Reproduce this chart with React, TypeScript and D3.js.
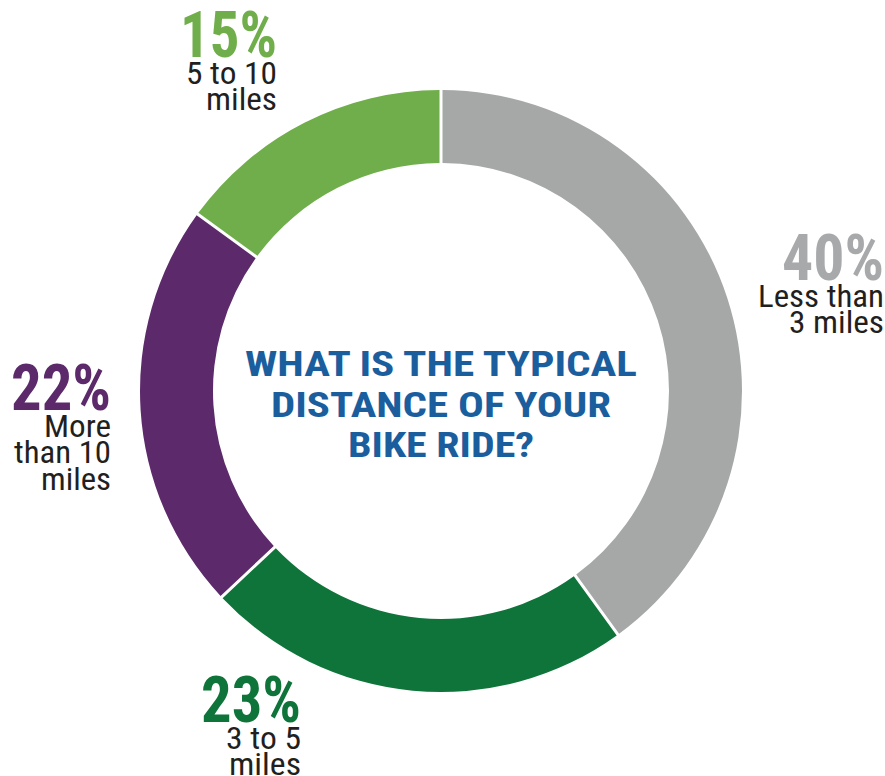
import React from "react";
import * as d3 from "d3";

const categories = ["Less than 3 miles", "3 to 5 miles", "More than 10 miles", "5 to 10 miles"];
const values = [40, 23, 22, 15];
const pctLabels = ["40%", "23%", "22%", "15%"];
const descLines = [["Less than", "3 miles"], ["3 to 5", "miles"], ["More", "than 10", "miles"], ["5 to 10", "miles"]];
const colors = ["#a6a7a7", "#0f743a", "#5c2a6b", "#6fae4a"];
const pctColors = ["#a8a9ab", "#0f743a", "#5c2a6b", "#6fae4a"];
const titleLines = ["WHAT IS THE TYPICAL", "DISTANCE OF YOUR", "BIKE RIDE?"];

// layout (styling only)
const W = 885, H = 776;
const CX = 441, CY = 391, R_OUT = 301, R_IN = 228;
const labelLayout = [
  { x: 884, y: 280, pctW: 102, lineW: [126, 95] },
  { x: 301, y: 722, pctW: 100, lineW: [75, 72] },
  { x: 111, y: 410, pctW: 100, lineW: [67, 97, 70] },
  { x: 277, y: 57, pctW: 97, lineW: [91, 71] },
];
const titleW = [392, 340, 186];

export default function App() {
  const pie = d3.pie<number>().sort(null).value((d) => d)(values);
  const arc = d3
    .arc<d3.PieArcDatum<number>>()
    .innerRadius(R_IN)
    .outerRadius(R_OUT)
    .padAngle(3 / R_OUT)
    .padRadius(R_OUT);
  const font = "'Roboto Condensed', Roboto, 'Noto Sans', sans-serif";
  return (
    <svg
      width={W}
      height={H}
      style={{ position: "absolute", left: 0, top: 0, background: "#fff" }}
      fontFamily={font}
    >
      <g transform={`translate(${CX},${CY})`}>
        {pie.map((p, i) => (
          <path key={categories[i]} d={arc(p) || ""} fill={colors[i]} />
        ))}
      </g>
      {labelLayout.map((l, i) => (
        <g key={"lab" + i}>
          <text
            x={l.x}
            y={l.y}
            textAnchor="end"
            fontSize={64}
            fontWeight={700}
            fill={pctColors[i]}
            textLength={l.pctW}
            lengthAdjust="spacingAndGlyphs"
          >
            {pctLabels[i]}
          </text>
          {descLines[i].map((s, j) => (
            <text
              key={j}
              x={l.x}
              y={l.y + 26.5 * (j + 1)}
              textAnchor="end"
              fontSize={32}
              fontWeight={400}
              fill="#231f20"
              textLength={l.lineW[j]}
              lengthAdjust="spacingAndGlyphs"
            >
              {s}
            </text>
          ))}
        </g>
      ))}
      {titleLines.map((s, i) => (
        <text
          key={"t" + i}
          x={CX}
          y={376 + 40.5 * i}
          textAnchor="middle"
          fontSize={35}
          fontWeight={700}
          fill="#1a5e9e"
          textLength={titleW[i]}
          lengthAdjust="spacingAndGlyphs"
        >
          {s}
        </text>
      ))}
    </svg>
  );
}
